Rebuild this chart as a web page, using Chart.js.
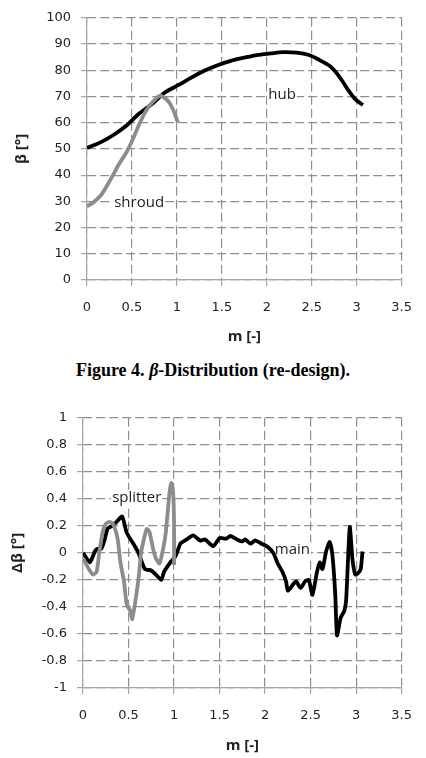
<!DOCTYPE html>
<html>
<head>
<meta charset="utf-8">
<script src="https://cdn.jsdelivr.net/npm/chart.js@4.4.1/dist/chart.umd.min.js"></script>
<style>
  html, body { margin: 0; padding: 0; background: #fff; }
  #page { position: relative; width: 426px; height: 758px; overflow: hidden; }
  .box { position: absolute; left: 0; width: 426px; }
  #topBox { top: 0; height: 350px; }
  #bottomBox { top: 400px; height: 358px; }
  #caption { position: absolute; left: 0; width: 426px; top: 358px; line-height: 24px; text-align: center;
    font-family: "Liberation Serif", "Times New Roman", serif; font-weight: bold; font-size: 18px; color: #000; }
</style>
</head>
<body>
<div id="page">
  <div class="box" id="topBox"><canvas id="betaChart"></canvas></div>
  <div id="caption">Figure 4. <i>β</i>-Distribution (re-design).</div>
  <div class="box" id="bottomBox"><canvas id="deltaChart"></canvas></div>
</div>
<script>
// --- data ---
const xTicks = [0, 0.5, 1, 1.5, 2, 2.5, 3, 3.5];
const betaTicks = [0, 10, 20, 30, 40, 50, 60, 70, 80, 90, 100];
const deltaTicks = [-1, -0.8, -0.6, -0.4, -0.2, 0, 0.2, 0.4, 0.6, 0.8, 1];

const hubM    = [0, 0.15, 0.29, 0.44, 0.58, 0.73, 0.87, 1.02, 1.16, 1.31, 1.46, 1.6, 1.75, 1.89, 2.04, 2.18, 2.33, 2.47, 2.58, 2.69, 2.76, 2.84, 2.91, 2.98, 3.07];
const hubBeta = [50.4, 52.5, 55.2, 58.9, 63.5, 67.3, 71.6, 74.4, 77.2, 79.9, 82, 83.6, 84.8, 85.8, 86.4, 86.9, 86.7, 85.8, 84, 81.9, 79.6, 75.9, 72.2, 69.1, 66.7];

const shroudM    = [0, 0.07, 0.15, 0.22, 0.29, 0.36, 0.44, 0.51, 0.58, 0.65, 0.73, 0.8, 0.85, 0.91, 0.96, 1.01];
const shroudBeta = [28.1, 29.6, 32.1, 35.8, 40.1, 44.4, 48.8, 53.7, 59.3, 64.2, 67.9, 70.1, 69.8, 67.9, 64.8, 60.1];

const mainM = [0, 0.075, 0.13, 0.16, 0.2, 0.235, 0.27, 0.32, 0.37, 0.43, 0.48, 0.56, 0.61, 0.68, 0.75, 0.8, 0.86, 0.89, 0.96, 1.02,
  1.07, 1.14, 1.21, 1.29, 1.34, 1.43, 1.5, 1.57, 1.62, 1.69, 1.75, 1.78, 1.84, 1.89, 1.96, 2.03, 2.09, 2.14, 2.19, 2.23,
  2.25, 2.3, 2.34, 2.39, 2.44, 2.48, 2.52, 2.57, 2.6, 2.63, 2.67, 2.71, 2.74, 2.77, 2.79, 2.83, 2.87, 2.89, 2.93, 2.96,
  2.99, 3.02, 3.05, 3.07];
const mainDelta = [0, -0.07, 0.01, 0.03, 0.03, 0.09, 0.18, 0.2, 0.23, 0.27, 0.15, 0.06, 0, -0.12, -0.13, -0.16, -0.2, -0.14, -0.07, -0.02,
  0.07, 0.1, 0.13, 0.09, 0.1, 0.05, 0.11, 0.105, 0.125, 0.1, 0.085, 0.1, 0.068, 0.093, 0.068, 0.044, 0, -0.08, -0.14, -0.21,
  -0.28, -0.24, -0.21, -0.26, -0.21, -0.2, -0.31, -0.14, -0.07, -0.12, 0.01, 0.08, -0.02, -0.3, -0.61, -0.48, -0.43, -0.35, 0.19, -0.05,
  -0.16, -0.15, -0.12, 0.01];

const splitterM = [0, 0.06, 0.11, 0.15, 0.18, 0.22, 0.25, 0.29, 0.33, 0.38, 0.41, 0.45, 0.48, 0.52, 0.54, 0.57, 0.61, 0.64, 0.67, 0.7,
  0.73, 0.77, 0.8, 0.84, 0.88, 0.91, 0.95, 0.97, 0.99, 1.0, 1.0];
const splitterDelta = [-0.04, -0.115, -0.16, -0.14, 0.01, 0.166, 0.215, 0.23, 0.215, 0.105, -0.066, -0.21, -0.38, -0.43, -0.49, -0.38, -0.19, 0.01, 0.105, 0.178,
  0.154, 0.03, -0.04, -0.078, 0.03, 0.154, 0.446, 0.52, 0.446, 0.227, -0.09];

const zip = (xs, ys) => xs.map((x, i) => ({ x, y: ys[i] }));
const fmt = v => String(Math.round(v * 10) / 10);

const GRID = '#8f8f8f';
const AXIS = '#a6a6a6';
const TEXT = '#222';
const FONT = '"Open Sans", "DejaVu Sans", sans-serif';
const TICK_FONT = { family: '"DejaVu Sans", sans-serif', size: 13 };

// in-plot text labels, white box behind like the original
const seriesLabels = {
  id: 'seriesLabels',
  beforeDatasetsDraw(chart, args, opts) {
    const { ctx, scales: { x, y } } = chart;
    ctx.save();
    ctx.font = '15px ' + FONT;
    ctx.textAlign = 'center';
    ctx.textBaseline = 'middle';
    (opts.items || []).forEach(it => {
      const px = x.getPixelForValue(it.m), py = y.getPixelForValue(it.v);
      const w = ctx.measureText(it.text).width;
      ctx.fillStyle = '#fff';
      ctx.fillRect(px - w / 2 - 1, py - 8, w + 2, 16);
      ctx.fillStyle = TEXT;
      ctx.fillText(it.text, px, py);
    });
    ctx.restore();
  }
};

function makeOptions(cfg) {
  return {
    responsive: true,
    maintainAspectRatio: false,
    animation: false,
    layout: { padding: cfg.padding },
    plugins: {
      legend: { display: false },
      tooltip: { enabled: false },
      seriesLabels: { items: cfg.labels }
    },
    elements: { point: { radius: 0 } },
    scales: {
      x: {
        type: 'linear', min: 0, max: 3.5,
        afterBuildTicks: s => { s.ticks = xTicks.map(v => ({ value: v })); },
        afterFit: s => { s.height = cfg.xHeight; },
        grid: { color: GRID, lineWidth: 1.2, tickLength: 6, tickColor: AXIS, tickWidth: 1.2 },
        border: { color: AXIS, width: 1.2, dash: [9, 4] },
        ticks: { color: TEXT, font: TICK_FONT, padding: 14, maxRotation: 0, callback: fmt },
        title: { display: true, text: 'm [-]', color: TEXT, font: { family: FONT, size: 15, weight: 'bold' }, padding: { top: 0, bottom: cfg.xTitlePad } }
      },
      y: {
        min: cfg.yMin, max: cfg.yMax,
        afterBuildTicks: s => { s.ticks = cfg.yTicks.map(v => ({ value: v })); },
        ticks: { color: TEXT, font: TICK_FONT, padding: 10, callback: fmt },
        afterFit: s => { s.width = cfg.yWidth; },
        grid: { color: GRID, lineWidth: 1.2, tickLength: 6, tickColor: AXIS, tickWidth: 1.2 },
        border: { color: AXIS, width: 1.2, dash: [9, 4] },
        title: { display: true, text: cfg.yTitle, color: TEXT, font: { family: FONT, size: 15, weight: 'bold' }, padding: { top: cfg.yTitlePad, bottom: 0 } }
      }
    }
  };
}

new Chart(document.getElementById('betaChart'), {
  type: 'line',
  data: {
    datasets: [
      { label: 'shroud', data: zip(shroudM, shroudBeta), borderColor: '#8c8c8c', borderWidth: 3.8, tension: 0.3 },
      { label: 'hub', data: zip(hubM, hubBeta), borderColor: '#000', borderWidth: 3.8, tension: 0.3 }
    ]
  },
  options: makeOptions({
    padding: { top: 10, right: 19, left: 0, bottom: 0 },
    xHeight: 70, yWidth: 87, xTitlePad: 4, yTitlePad: 13,
    yMin: 0, yMax: 100, yTicks: betaTicks, yTitle: 'β [°]',
    labels: [{ text: 'hub', m: 2.17, v: 70.8 }, { text: 'shroud', m: 0.58, v: 29.6 }]
  }),
  plugins: [seriesLabels]
});

new Chart(document.getElementById('deltaChart'), {
  type: 'line',
  data: {
    datasets: [
      { label: 'splitter', data: zip(splitterM, splitterDelta), borderColor: '#8c8c8c', borderWidth: 3.8, tension: 0.2 },
      { label: 'main', data: zip(mainM, mainDelta), borderColor: '#000', borderWidth: 3.8, tension: 0.2 }
    ]
  },
  options: makeOptions({
    padding: { top: 15, right: 15, left: 0, bottom: 0 },
    xHeight: 70, yWidth: 83, xTitlePad: 3, yTitlePad: 9,
    yMin: -1, yMax: 1, yTicks: deltaTicks, yTitle: 'Δβ [°]',
    labels: [{ text: 'splitter', m: 0.59, v: 0.407 }, { text: 'main', m: 2.3, v: 0.02 }]
  }),
  plugins: [seriesLabels]
});
</script>
</body>
</html>
